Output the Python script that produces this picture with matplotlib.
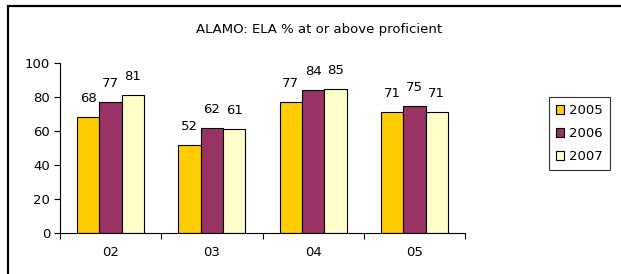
import matplotlib.pyplot as plt
import matplotlib.patches as patches
import numpy as np

grades = ['02', '03', '04', '05']
years = ['2005', '2006', '2007']
v2005 = [68, 52, 77, 71]
v2006 = [77, 62, 84, 75]
v2007 = [81, 61, 85, 71]
colors = ['#FFCC00', '#993366', '#FFFFCC']

fs = 9.5
fig = plt.figure(figsize=(6.21, 2.74), dpi=100)
W, H = 621, 274
ax = fig.add_axes([60 / W, 1 - 233 / H, (465 - 60) / W, (233 - 63) / H])

# outer frame of the chart area (cropped at right/bottom)
frame = patches.Rectangle((8 / W, -0.1), 1.0, 1 - 6 / H + 0.1, transform=fig.transFigure,
                          fill=False, edgecolor='black', linewidth=1.6, clip_on=False)
fig.patches.append(frame)

x = np.arange(len(grades))
bw = 0.22
for i, (vals, c, yr) in enumerate(zip([v2005, v2006, v2007], colors, years)):
    pos = x + (i - 1) * bw
    ax.bar(pos, vals, bw, color=c, edgecolor='black', linewidth=0.8, label=yr)
    for p, v in zip(pos, vals):
        ax.text(p, v + 7, str(v), ha='center', va='bottom', fontsize=fs)

ax.set_xlim(-0.5, len(grades) - 0.5)
ax.set_ylim(0, 100)
ax.set_yticks([0, 20, 40, 60, 80, 100])
ax.set_xticks(np.arange(-0.5, len(grades), 1.0))
ax.set_xticklabels([])
ax.set_xticks(x, minor=True)
ax.set_xticklabels(grades, minor=True)
ax.tick_params(axis='x', which='major', length=4, direction='out')
ax.tick_params(axis='x', which='minor', length=0, pad=9, labelsize=fs)
ax.tick_params(axis='y', length=4, direction='out', labelsize=fs, pad=3)
ax.spines['top'].set_visible(False)
ax.spines['right'].set_visible(False)

fig.text(319 / W, 1 - 30 / H, 'ALAMO: ELA % at or above proficient', ha='center', va='center', fontsize=fs)

leg = fig.legend(loc='upper left', bbox_to_anchor=(549 / W, 1 - 97 / H), fontsize=fs,
                 frameon=True, fancybox=False, edgecolor='black', handlelength=0.6,
                 handleheight=0.6, handletextpad=0.4, labelspacing=0.75, borderpad=0.55,
                 borderaxespad=0)
leg.get_frame().set_linewidth(0.8)

fig.savefig('out.png', dpi=100)
